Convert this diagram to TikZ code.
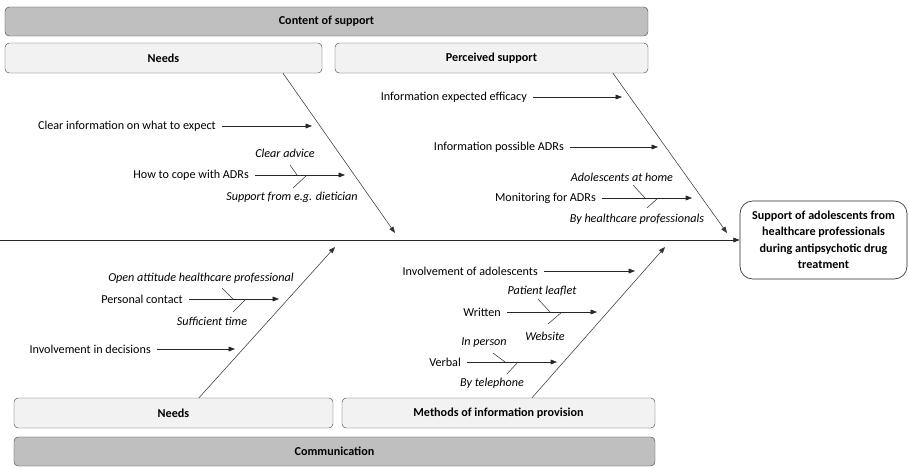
\documentclass[tikz,border=0pt]{standalone}
\usepackage{fontspec}
\setmainfont{Carlito}
\usetikzlibrary{arrows.meta}
\usetikzlibrary{positioning}

\begin{document}
\begin{tikzpicture}[
  font=\fontsize{11.5}{14}\selectfont,
  groupbox/.style={draw=black!75,rounded corners=4pt,fill=gray!50,font=\fontsize{11.5}{14}\selectfont\bfseries,minimum height=0.967cm,inner sep=0pt},
  subbox/.style={draw=black!75,rounded corners=4pt,fill=gray!10,font=\fontsize{11.5}{14}\selectfont\bfseries,minimum height=1cm,inner sep=0pt},
  bone/.style={draw=black!80,line width=0.5pt,-{Triangle[length=6pt,width=4.5pt]}},
  arr/.style={draw=black!85,line width=0.6pt,-{Triangle[length=6pt,width=4.5pt]}},
  cause/.style={anchor=east,inner xsep=0.2cm,inner ysep=1pt},
  detail/.style={font=\fontsize{11.5}{14}\selectfont\itshape,inner sep=1pt},
  twig/.style={draw=black!80,line width=0.5pt}]

\useasboundingbox (0,0) rectangle (30.3,15.567);

% category boxes
\node[groupbox,minimum width=21.433cm] (content) at (10.883,14.85) {Content of support};
\node[subbox,minimum width=10.567cm] (needsTop) at (5.45,13.633) {Needs};
\node[subbox,minimum width=10.433cm] (perceived) at (16.383,13.633) {Perceived support};
\node[subbox,minimum width=10.633cm] (needsBot) at (5.783,1.8) {Needs};
\node[subbox,minimum width=10.433cm] (methods) at (16.617,1.8) {Methods of information provision};
\node[groupbox,minimum width=21.367cm] (communication) at (11.15,0.517) {Communication};

% effect and spine
\node[draw=black!85,line width=0.6pt,rounded corners=12pt,fill=white,align=center,font=\fontsize{11.5}{15.6}\selectfont\bfseries,minimum width=5.567cm,minimum height=2.6cm] (effect) at (27.45,7.567) {Support of adolescents from\\healthcare professionals\\during antipsychotic drug\\treatment};
\coordinate (tail) at (0,7.567);
\draw[arr] (tail) -- (effect.west);

% bones
\coordinate (tipNeedsTop) at (13.167,7.8);
\coordinate (tipPerceived) at (24.233,7.8);
\coordinate (tipNeedsBot) at (11.167,7.333);
\coordinate (tipMethods) at (22.167,7.333);
\draw[bone] (9.433,0 |- needsTop.south) -- (tipNeedsTop);
\draw[bone] (20.433,0 |- perceived.south) -- (tipPerceived);
\draw[bone] (6.633,0 |- needsBot.north) -- (tipNeedsBot);
\draw[bone] (17.733,0 |- methods.north) -- (tipMethods);

% needs (content of support)
\node[cause] (clearInfo) at (7.4,11.367) {Clear information on what to expect};
\coordinate (clearInfoTip) at (10.4,11.367);
\draw[arr] (clearInfo.east) -- (clearInfoTip);
\node[cause] (cope) at (8.5,9.733) {How to cope with ADRs};
\coordinate (copeTip) at (11.5,9.733);
\draw[arr] (cope.east) -- (copeTip);
\node[detail] (advice) at (9.5,10.467) {Clear advice};
\coordinate (adviceA) at (9.667,10.067);
\coordinate (adviceB) at (9.9,9.733);
\draw[twig] (adviceA) -- (adviceB);
\node[detail] (dietician) at (9.733,9.0) {Support from e.g. dietician};
\coordinate (dieticianA) at (10.233,9.733);
\coordinate (dieticianB) at (9.767,9.3);
\draw[twig] (dieticianA) -- (dieticianB);

% perceived support
\node[cause] (efficacy) at (17.767,12.333) {Information expected efficacy};
\coordinate (efficacyTip) at (20.733,12.333);
\draw[arr] (efficacy.east) -- (efficacyTip);
\node[cause] (possible) at (19.0,10.667) {Information possible ADRs};
\coordinate (possibleTip) at (21.933,10.667);
\draw[arr] (possible.east) -- (possibleTip);
\node[cause] (monitoring) at (20.067,8.967) {Monitoring for ADRs};
\coordinate (monitoringTip) at (23.067,8.967);
\draw[arr] (monitoring.east) -- (monitoringTip);
\node[detail] (home) at (20.733,9.667) {Adolescents at home};
\coordinate (homeA) at (21.1,9.4);
\coordinate (homeB) at (21.5,8.967);
\draw[twig] (homeA) -- (homeB);
\node[detail] (professionals) at (21.233,8.267) {By healthcare professionals};
\coordinate (professionalsA) at (21.933,8.967);
\coordinate (professionalsB) at (21.567,8.633);
\draw[twig] (professionalsA) -- (professionalsB);

% needs (communication)
\node[cause] (personal) at (6.3,5.6) {Personal contact};
\coordinate (personalTip) at (9.3,5.6);
\draw[arr] (personal.east) -- (personalTip);
\node[detail] (attitude) at (6.7,6.3) {Open attitude healthcare professional};
\coordinate (attitudeA) at (7.4,5.967);
\coordinate (attitudeB) at (7.767,5.6);
\draw[twig] (attitudeA) -- (attitudeB);
\node[detail] (time) at (7.067,4.867) {Sufficient time};
\coordinate (timeA) at (8.2,5.6);
\coordinate (timeB) at (7.767,5.167);
\draw[twig] (timeA) -- (timeB);
\node[cause] (decisions) at (5.233,3.933) {Involvement in decisions};
\coordinate (decisionsTip) at (7.833,3.933);
\draw[arr] (decisions.east) -- (decisionsTip);

% methods of information provision
\node[cause] (involvement) at (18.133,6.533) {Involvement of adolescents};
\coordinate (involvementTip) at (21.167,6.533);
\draw[arr] (involvement.east) -- (involvementTip);
\node[cause] (written) at (16.9,5.167) {Written};
\coordinate (writtenTip) at (19.9,5.167);
\draw[arr] (written.east) -- (writtenTip);
\node[detail] (leaflet) at (18.067,5.867) {Patient leaflet};
\coordinate (leafletA) at (17.933,5.6);
\coordinate (leafletB) at (18.333,5.167);
\draw[twig] (leafletA) -- (leafletB);
\node[detail] (website) at (18.167,4.367) {Website};
\coordinate (websiteA) at (18.733,5.167);
\coordinate (websiteB) at (18.267,4.767);
\draw[twig] (websiteA) -- (websiteB);
\node[cause] (verbal) at (15.567,3.5) {Verbal};
\coordinate (verbalTip) at (18.567,3.5);
\draw[arr] (verbal.east) -- (verbalTip);
\node[detail] (inperson) at (16.133,4.133) {In person};
\coordinate (inpersonA) at (16.433,3.8);
\coordinate (inpersonB) at (16.833,3.5);
\draw[twig] (inpersonA) -- (inpersonB);
\node[detail] (telephone) at (16.4,2.8) {By telephone};
\coordinate (telephoneA) at (17.267,3.5);
\coordinate (telephoneB) at (16.9,3.1);
\draw[twig] (telephoneA) -- (telephoneB);

\end{tikzpicture}
\end{document}
